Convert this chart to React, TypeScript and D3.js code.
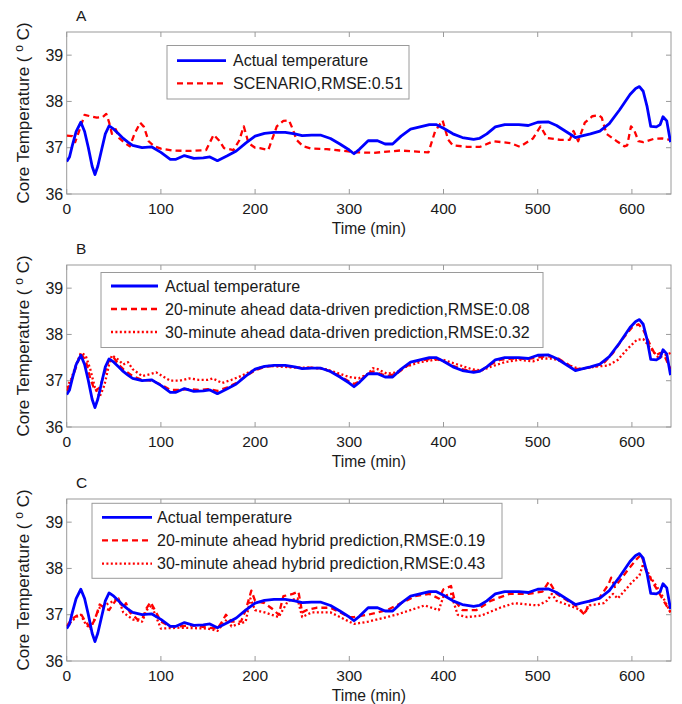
import React from "react";
import * as d3 from "d3";

// Core temperature over time (minutes): measured values and predictions.
const actualTemp: [number, number][] = [
  [0, 36.7], [3, 36.8], [6, 37.05], [10, 37.35], [15, 37.55], [19, 37.35], [23, 37.0], [27, 36.6],
  [30, 36.42], [33, 36.6], [37, 36.95], [41, 37.3], [45, 37.47], [50, 37.4], [55, 37.3], [60, 37.2],
  [65, 37.12], [70, 37.05], [80, 37.0], [90, 37.02], [100, 36.9], [110, 36.75], [116, 36.75],
  [125, 36.83], [135, 36.77], [145, 36.78], [152, 36.8], [160, 36.72], [170, 36.82], [180, 36.93],
  [190, 37.1], [200, 37.25], [210, 37.31], [220, 37.33], [232, 37.33], [242, 37.3], [250, 37.26],
  [260, 37.27], [270, 37.27], [280, 37.2], [290, 37.08], [300, 36.95], [305, 36.87], [311, 36.97],
  [320, 37.15], [330, 37.15], [338, 37.08], [346, 37.08], [355, 37.25], [365, 37.4], [375, 37.45],
  [385, 37.5], [392, 37.5], [400, 37.42], [410, 37.3], [420, 37.22], [432, 37.18], [438, 37.2],
  [446, 37.3], [455, 37.45], [465, 37.5], [480, 37.5], [490, 37.48], [500, 37.55], [511, 37.56],
  [520, 37.48], [530, 37.35], [540, 37.22], [546, 37.25], [556, 37.3], [566, 37.36], [576, 37.52],
  [587, 37.82], [598, 38.15], [604, 38.28], [608, 38.32], [612, 38.22], [616, 37.9], [620, 37.46],
  [626, 37.45], [630, 37.5], [633, 37.67], [637, 37.58], [641, 37.12],
];

const scenarioTemp: [number, number][] = [
  [0, 37.26], [6, 37.25], [9, 37.12], [13, 37.35], [19, 37.71], [25, 37.68], [32, 37.65], [38, 37.66],
  [42, 37.73], [45, 37.55], [48, 37.3], [52, 37.4], [56, 37.2], [62, 37.1], [67, 37.03], [72, 37.3],
  [78, 37.54], [82, 37.45], [87, 37.14], [93, 37.03], [100, 36.98], [112, 36.94], [130, 36.93],
  [148, 36.95], [156, 37.28], [162, 37.15], [167, 36.99], [177, 36.95], [183, 37.15], [188, 37.46],
  [193, 37.1], [200, 37.0], [205, 36.99], [214, 36.95], [223, 37.46], [230, 37.58], [236, 37.59],
  [240, 37.4], [244, 37.17], [251, 37.03], [260, 36.98], [276, 36.97], [290, 36.94], [308, 36.9],
  [326, 36.89], [354, 36.94], [384, 36.9], [391, 37.35], [399, 37.59], [405, 37.17], [410, 37.05],
  [425, 37.02], [439, 37.02], [453, 37.14], [471, 37.1], [481, 37.02], [495, 37.2], [503, 37.46],
  [510, 37.21], [524, 37.17], [534, 37.17], [538, 37.36], [543, 37.14], [550, 37.54], [558, 37.68],
  [565, 37.7], [568, 37.65], [573, 37.3], [584, 37.14], [592, 37.03], [595, 37.05], [599, 37.46],
  [602, 37.4], [607, 37.14], [612, 37.12], [623, 37.19], [632, 37.2], [641, 37.17],
];

const dataDriven20: [number, number][] = [
  [0, 36.78], [5, 37.0], [10, 37.3], [15, 37.58], [20, 37.45], [25, 37.05], [30, 36.78], [35, 36.85],
  [40, 37.15], [45, 37.45], [50, 37.5], [55, 37.35], [60, 37.25], [70, 37.1], [80, 37.02], [90, 37.0],
  [100, 36.92], [110, 36.8], [120, 36.8], [130, 36.82], [140, 36.8], [150, 36.82], [160, 36.78],
  [170, 36.85], [180, 36.95], [190, 37.1], [200, 37.22], [210, 37.3], [220, 37.32], [230, 37.32],
  [240, 37.3], [250, 37.27], [260, 37.28], [270, 37.27], [280, 37.2], [290, 37.1], [300, 36.98],
  [305, 36.93], [310, 36.98], [320, 37.15], [325, 37.2], [330, 37.17], [340, 37.1], [350, 37.15],
  [360, 37.3], [370, 37.42], [380, 37.45], [390, 37.48], [400, 37.42], [410, 37.32], [420, 37.25],
  [430, 37.2], [440, 37.22], [450, 37.35], [460, 37.45], [470, 37.47], [480, 37.48], [490, 37.47],
  [500, 37.5], [510, 37.53], [520, 37.5], [530, 37.38], [540, 37.25], [550, 37.27], [560, 37.3],
  [570, 37.38], [580, 37.6], [590, 37.9], [600, 38.15], [607, 38.22], [612, 38.1], [620, 37.75],
  [625, 37.55], [630, 37.6], [635, 37.52], [641, 37.25],
];

const dataDriven30: [number, number][] = [
  [0, 36.85], [5, 37.05], [10, 37.35], [15, 37.6], [20, 37.55], [25, 37.25], [30, 36.85], [35, 36.65],
  [40, 36.9], [45, 37.35], [48, 37.55], [55, 37.45], [60, 37.35], [65, 37.4], [70, 37.25], [80, 37.1],
  [90, 37.15], [95, 37.18], [100, 37.12], [110, 37.0], [120, 37.0], [130, 37.05], [140, 37.02],
  [150, 37.02], [155, 37.05], [165, 36.95], [175, 37.02], [185, 37.1], [195, 37.2], [205, 37.28],
  [215, 37.32], [230, 37.3], [245, 37.28], [260, 37.28], [275, 37.25], [290, 37.15], [300, 37.08],
  [310, 37.05], [320, 37.15], [325, 37.27], [330, 37.25], [340, 37.15], [350, 37.18], [360, 37.3],
  [375, 37.4], [390, 37.45], [400, 37.45], [415, 37.35], [430, 37.25], [440, 37.22], [450, 37.3],
  [465, 37.4], [480, 37.45], [495, 37.42], [505, 37.48], [515, 37.48], [525, 37.42], [535, 37.32],
  [545, 37.25], [560, 37.3], [575, 37.33], [585, 37.45], [595, 37.68], [605, 37.88], [612, 37.9],
  [620, 37.7], [628, 37.5], [635, 37.55], [641, 37.6],
];

const hybrid20: [number, number][] = [
  [0, 36.75], [5, 36.9], [10, 36.97], [15, 37.02], [20, 36.85], [25, 36.72], [30, 36.9], [35, 37.22],
  [40, 37.15], [45, 37.1], [50, 37.25], [54, 37.36], [60, 37.15], [63, 37.25], [67, 37.05], [75, 36.9],
  [80, 36.9], [85, 37.15], [89, 37.27], [95, 37.05], [100, 36.85], [110, 36.75], [120, 36.75],
  [135, 36.77], [150, 36.72], [160, 36.7], [165, 36.85], [169, 37.0], [175, 36.85], [185, 36.85],
  [190, 37.1], [196, 37.52], [200, 37.3], [210, 37.25], [220, 37.1], [225, 37.0], [230, 37.4],
  [240, 37.45], [246, 37.5], [250, 37.05], [255, 37.1], [265, 37.15], [280, 37.15], [290, 37.05],
  [300, 36.95], [305, 36.95], [320, 37.0], [340, 37.1], [350, 37.2], [370, 37.4], [385, 37.45],
  [395, 37.35], [400, 37.55], [408, 37.62], [412, 37.3], [420, 37.1], [435, 37.1], [450, 37.3],
  [470, 37.45], [490, 37.45], [505, 37.5], [512, 37.72], [520, 37.45], [540, 37.2], [550, 37.0],
  [555, 37.3], [565, 37.35], [575, 37.65], [578, 37.8], [582, 37.6], [595, 37.95], [605, 38.2],
  [610, 38.3], [615, 37.95], [625, 37.6], [641, 37.05],
];

const hybrid30: [number, number][] = [
  [0, 36.75], [10, 36.95], [15, 37.0], [20, 36.8], [25, 36.7], [35, 37.15], [50, 37.3], [55, 37.35],
  [60, 37.05], [70, 36.9], [80, 36.85], [85, 37.1], [90, 37.2], [95, 36.95], [100, 36.7], [120, 36.72],
  [150, 36.7], [160, 36.65], [170, 36.9], [175, 36.75], [190, 36.85], [195, 37.35], [200, 37.1],
  [210, 37.05], [225, 36.95], [235, 37.3], [245, 37.35], [250, 36.95], [260, 37.05], [280, 37.05],
  [300, 36.85], [305, 36.8], [320, 36.85], [350, 37.0], [380, 37.2], [395, 37.1], [400, 37.4],
  [408, 37.45], [415, 37.0], [425, 36.95], [440, 36.98], [460, 37.15], [475, 37.25], [500, 37.2],
  [510, 37.3], [515, 37.45], [520, 37.3], [540, 37.15], [550, 37.05], [555, 37.2], [570, 37.25],
  [580, 37.45], [585, 37.35], [600, 37.7], [608, 37.85], [612, 38.1], [620, 37.8], [630, 37.5],
  [641, 37.05],
];

const xTicks = [0, 100, 200, 300, 400, 500, 600];
const yTicks = [36, 37, 38, 39];

type Style = "solid" | "dashed" | "dotted";
interface Series { name: string; values: [number, number][]; style: Style }

const BLUE = "#0000ff";
const RED = "#ff0000";
const AXIS = "#9a9a9a";
const INK = "#1a1a1a";
const FONT = "'Liberation Sans', Arial, Helvetica, sans-serif";

function strokeFor(style: Style) {
  if (style === "solid") return { stroke: BLUE, strokeWidth: 2.8, dash: undefined };
  if (style === "dashed") return { stroke: RED, strokeWidth: 2.3, dash: "6,4" };
  return { stroke: RED, strokeWidth: 2.3, dash: "2,2.4" };
}

const LEFT = 66.7;
const RIGHT = 671;
const PLOT_H = 162;

interface PanelProps {
  id: string;
  letter: string;
  top: number;
  series: Series[];
  legend: { x: number; y: number; w: number; h: number; rows: number[]; sx0: number; sx1: number; tx: number };
}

function Panel({ id, letter, top, series, legend }: PanelProps) {
  const x = d3.scaleLinear().domain([0, 641.5]).range([LEFT, RIGHT]);
  const y = d3.scaleLinear().domain([36, 39.5]).range([top + PLOT_H, top]);
  const line = d3
    .line<[number, number]>()
    .x((d) => x(d[0]))
    .y((d) => y(d[1]));
  const bottom = top + PLOT_H;
  const tick = 5;
  return (
    <g>
      <defs>
        <clipPath id={`clip-${id}`}>
          <rect x={LEFT} y={top} width={RIGHT - LEFT} height={PLOT_H} />
        </clipPath>
      </defs>
      <text x={76} y={top - 11.5} fontSize={15.5} fill={INK} fontFamily={FONT}>
        {letter}
      </text>
      <rect x={LEFT} y={top} width={RIGHT - LEFT} height={PLOT_H} fill="#fff" stroke={AXIS} strokeWidth={1} />
      {xTicks.map((t) => (
        <g key={`xt${t}`}>
          <line x1={x(t)} x2={x(t)} y1={bottom} y2={bottom - tick} stroke={AXIS} />
          <line x1={x(t)} x2={x(t)} y1={top} y2={top + tick} stroke={AXIS} />
          <text x={x(t)} y={bottom + 19.5} textAnchor="middle" fontSize={15.5} fill={INK} fontFamily={FONT}>
            {t}
          </text>
        </g>
      ))}
      {yTicks.map((v) => (
        <g key={`yt${v}`}>
          <line x1={LEFT} x2={LEFT + tick} y1={y(v)} y2={y(v)} stroke={AXIS} />
          <line x1={RIGHT} x2={RIGHT - tick} y1={y(v)} y2={y(v)} stroke={AXIS} />
          <text x={LEFT - 3.5} y={y(v) + 5.5} textAnchor="end" fontSize={16} fill={INK} fontFamily={FONT}>
            {v}
          </text>
        </g>
      ))}
      <text
        x={(LEFT + RIGHT) / 2}
        y={bottom + 40}
        textAnchor="middle"
        fontSize={15.7}
        fill={INK}
        fontFamily={FONT}
      >
        Time (min)
      </text>
      <text
        transform={`translate(${29},${top + PLOT_H / 2}) rotate(-90)`}
        textAnchor="middle"
        fontSize={17}
        fill={INK}
        fontFamily={FONT}
      >
        {"Core Temperature (\u00a0"}
        <tspan dy={-6} fontSize={12}>
          o
        </tspan>
        <tspan dy={6}>{"\u00a0C)"}</tspan>
      </text>
      <g clipPath={`url(#clip-${id})`}>
        {series
          .slice()
          .reverse()
          .map((s) => {
            const st = strokeFor(s.style);
            return (
              <path
                key={s.name}
                d={line(s.values) || ""}
                fill="none"
                stroke={st.stroke}
                strokeWidth={st.strokeWidth}
                strokeDasharray={st.dash}
                strokeLinejoin="round"
              />
            );
          })}
      </g>
      <rect
        x={legend.x}
        y={top + legend.y}
        width={legend.w}
        height={legend.h}
        fill="#fff"
        stroke={AXIS}
        strokeWidth={1}
      />
      {series.map((s, i) => {
        const st = strokeFor(s.style);
        const ry = top + legend.rows[i];
        return (
          <g key={`lg${s.name}`}>
            <line
              x1={legend.sx0}
              x2={legend.sx1}
              y1={ry}
              y2={ry}
              stroke={st.stroke}
              strokeWidth={st.strokeWidth}
              strokeDasharray={st.dash}
            />
            <text x={legend.tx} y={ry + 5.6} fontSize={16} fill={INK} fontFamily={FONT}>
              {s.name}
            </text>
          </g>
        );
      })}
    </g>
  );
}

export default function App() {
  return (
    <svg
      width={682}
      height={704}
      viewBox="0 0 682 704"
      style={{ position: "absolute", left: 0, top: 0, background: "#fff" }}
    >
      <rect width={682} height={704} fill="#fff" />
      <Panel
        id="a"
        letter="A"
        top={32}
        series={[
          { name: "Actual temperature", values: actualTemp, style: "solid" },
          { name: "SCENARIO,RMSE:0.51", values: scenarioTemp, style: "dashed" },
        ]}
        legend={{ x: 167, y: 13.5, w: 242, h: 53.5, rows: [28.7, 51.3], sx0: 177, sx1: 226, tx: 233 }}
      />
      <Panel
        id="b"
        letter="B"
        top={265}
        series={[
          { name: "Actual temperature", values: actualTemp, style: "solid" },
          { name: "20-minute ahead data-driven prediction,RMSE:0.08", values: dataDriven20, style: "dashed" },
          { name: "30-minute ahead data-driven prediction,RMSE:0.32", values: dataDriven30, style: "dotted" },
        ]}
        legend={{ x: 101, y: 7.5, w: 442, h: 75, rows: [21, 44, 67], sx0: 111, sx1: 158, tx: 165 }}
      />
      <Panel
        id="c"
        letter="C"
        top={499}
        series={[
          { name: "Actual temperature", values: actualTemp, style: "solid" },
          { name: "20-minute ahead hybrid prediction,RMSE:0.19", values: hybrid20, style: "dashed" },
          { name: "30-minute ahead hybrid prediction,RMSE:0.43", values: hybrid30, style: "dotted" },
        ]}
        legend={{ x: 92, y: 4.3, w: 410, h: 75, rows: [18.3, 41.3, 64.7], sx0: 102, sx1: 152, tx: 157 }}
      />
    </svg>
  );
}
